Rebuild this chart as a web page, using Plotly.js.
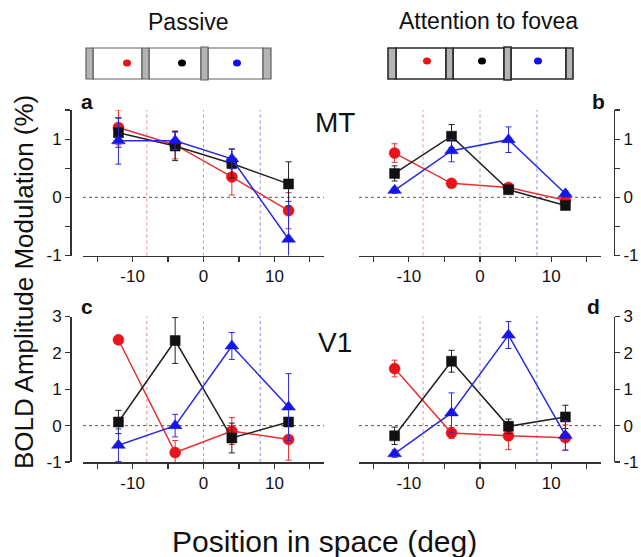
<!DOCTYPE html>
<html>
<head>
<meta charset="utf-8">
<script src="https://cdn.plot.ly/plotly-3.0.1.min.js"></script>
<style>html,body{margin:0;padding:0;background:#fff}#chart{width:641px;height:557px}</style>
</head>
<body>
<div id="chart"></div>
<script>
// ---- data ----
const positions = [-12, -4, 4, 12];

const xTickVals = [-10, 0, 10];
const xTickText = ['-10', '0', '10'];
const yTickValsMT = [-1, 0, 1];
const yTickTextMT = ['-1', '0', '1'];
const yTickValsV1 = [-1, 0, 1, 2, 3];
const yTickTextV1 = ['-1', '0', '1', '2', '3'];

const mtPassiveRed = [1.20, 0.90, 0.35, -0.23];
const mtPassiveRedErr = [0.30, 0.24, 0.31, 0.31];
const mtPassiveBlack = [1.11, 0.88, 0.58, 0.23];
const mtPassiveBlackErr = [0.25, 0.25, 0.25, 0.38];
const mtPassiveBlue = [0.97, 0.97, 0.66, -0.72];
const mtPassiveBlueErr = [0.40, 0.15, 0.17, 0.65];

const mtAttRed = [0.76, 0.24, 0.17, -0.05];
const mtAttRedErr = [0.16, 0.05, 0.05, 0.05];
const mtAttBlack = [0.41, 1.05, 0.13, -0.14];
const mtAttBlackErr = [0.13, 0.20, 0.05, 0.05];
const mtAttBlue = [0.12, 0.80, 0.99, 0.06];
const mtAttBlueErr = [0.05, 0.19, 0.22, 0.05];

const v1PassiveRed = [2.36, -0.74, -0.15, -0.38];
const v1PassiveRedErr = [0.10, 0.33, 0.37, 0.57];
const v1PassiveBlack = [0.10, 2.34, -0.34, 0.10];
const v1PassiveBlackErr = [0.32, 0.63, 0.41, 0.08];
const v1PassiveBlue = [-0.54, 0.00, 2.19, 0.51];
const v1PassiveBlueErr = [0.45, 0.31, 0.37, 0.92];

const v1AttRed = [1.57, -0.20, -0.28, -0.33];
const v1AttRedErr = [0.23, 0.15, 0.38, 0.35];
const v1AttBlack = [-0.28, 1.77, -0.02, 0.24];
const v1AttBlackErr = [0.24, 0.30, 0.20, 0.32];
const v1AttBlue = [-0.77, 0.35, 2.49, -0.27];
const v1AttBlueErr = [0.10, 0.55, 0.37, 0.40];

const guideLines = [-8, 0, 8];

// ---- helpers ----
const W = 641, H = 557;
const px = v => v / W;
const py = v => 1 - v / H;
const FONT = 'Liberation Sans, Arial, sans-serif';

const RED = '#e8141c', BLACK = '#111111', BLUE = '#1616e6';

function series(xa, ya, y, err, color, symbol, size, lineColor) {
  return {
    type: 'scatter', mode: 'lines+markers', x: positions, y: y,
    xaxis: xa, yaxis: ya, showlegend: false,
    line: {color: lineColor, width: 1.5},
    marker: {symbol: symbol, size: size, color: color, line: {color: color, width: 0.5}},
    error_y: {type: 'data', array: err, visible: true, color: lineColor, thickness: 1, width: 3}
  };
}

const traces = [];
const panels = [
  ['x', 'y', mtPassiveRed, mtPassiveRedErr, mtPassiveBlack, mtPassiveBlackErr, mtPassiveBlue, mtPassiveBlueErr],
  ['x2', 'y2', mtAttRed, mtAttRedErr, mtAttBlack, mtAttBlackErr, mtAttBlue, mtAttBlueErr],
  ['x3', 'y3', v1PassiveRed, v1PassiveRedErr, v1PassiveBlack, v1PassiveBlackErr, v1PassiveBlue, v1PassiveBlueErr],
  ['x4', 'y4', v1AttRed, v1AttRedErr, v1AttBlack, v1AttBlackErr, v1AttBlue, v1AttBlueErr]
];
panels.forEach(p => {
  traces.push(series(p[0], p[1], p[2], p[3], RED, 'circle', 11, '#e83030'));
  traces.push(series(p[0], p[1], p[4], p[5], BLACK, 'square', 10, '#222222'));
  traces.push(series(p[0], p[1], p[6], p[7], BLUE, 'triangle-up', 12, '#2a2ae0'));
});

// ---- axes ----
const AX = '#333333';
function xAxis(domain, anchor) {
  return {
    domain: domain, anchor: anchor, range: [-17, 17],
    showline: true, linecolor: AX, linewidth: 1.5,
    ticks: 'outside', ticklen: 5, tickwidth: 1.2, tickcolor: AX,
    tickmode: 'array', tickvals: xTickVals, ticktext: xTickText,
    minor: {tick0: 0, dtick: 5, ticks: 'outside', ticklen: 5, tickwidth: 1.2, tickcolor: AX},
    showgrid: false, zeroline: false,
    tickfont: {family: FONT, size: 17, color: '#111'}
  };
}
function yAxis(domain, range, pos, side, vals, text, minor) {
  const a = {
    domain: domain, anchor: 'free', position: pos, side: side, range: range,
    showline: true, linecolor: AX, linewidth: 1.5,
    ticks: 'outside', ticklen: 5, tickwidth: 1.2, tickcolor: AX,
    tickmode: 'array', tickvals: vals, ticktext: text,
    showgrid: false, zeroline: false,
    tickfont: {family: FONT, size: 17, color: '#111'}
  };
  if (minor) a.minor = {tick0: 0, dtick: 0.5, ticks: 'outside', ticklen: 5, tickwidth: 1.2, tickcolor: AX};
  return a;
}

const xLeft = [px(83), px(324)];
const xRight = [px(359), px(601)];
const yTop = [py(255.5), py(110)];
const yBot = [py(462), py(316.5)];

// ---- shapes ----
const shapes = [];
const guideColors = ['#f08a8a', '#a0a0c0', '#8a8ae8'];
[['x', 'y'], ['x2', 'y2'], ['x3', 'y3'], ['x4', 'y4']].forEach(([xa, ya]) => {
  guideLines.forEach((g, i) => {
    shapes.push({type: 'line', xref: xa, yref: ya + ' domain', x0: g, x1: g, y0: 0, y1: 1,
      line: {color: guideColors[i], width: 1, dash: 'dot'}, layer: 'below'});
  });
  shapes.push({type: 'line', xref: xa + ' domain', yref: ya, x0: 0, x1: 1, y0: 0, y1: 0,
    line: {color: '#555', width: 1, dash: 'dot'}, layer: 'below'});
});

// schematic boxes
function schematic(bars, whites, dots, top, bot, border, bw) {
  whites.forEach(w => shapes.push({type: 'rect', xref: 'paper', yref: 'paper',
    x0: px(w[0]), x1: px(w[1]), y0: py(bot), y1: py(top),
    fillcolor: '#ffffff', line: {color: border, width: bw}}));
  bars.forEach((b, i) => shapes.push({type: 'rect', xref: 'paper', yref: 'paper',
    x0: px(b[0]), x1: px(b[1]), y0: py(bot + (b[2] || 0)), y1: py(top - (b[2] || 0)),
    fillcolor: '#b4b4b4', line: {color: border, width: bw}}));
  dots.forEach(d => shapes.push({type: 'circle', xref: 'paper', yref: 'paper',
    x0: px(d[0] - 4), x1: px(d[0] + 4), y0: py(d[1] + 3.5), y1: py(d[1] - 3.5),
    fillcolor: d[2], line: {color: d[2], width: 0}}));
}
schematic([[86, 93], [142, 149], [201, 208, 1], [263, 271]],
  [[93, 142], [149, 201], [208, 263]],
  [[127, 63, '#ee1111'], [182, 63, '#000000'], [237, 63, '#1111ee']], 48, 79, '#606060', 1.2);
schematic([[388, 396], [446, 453], [504, 511, 1], [566, 573]],
  [[396, 446], [453, 504], [511, 566]],
  [[427, 61, '#ee1111'], [482, 61, '#000000'], [538, 61, '#1111ee']], 48, 79, '#2a2a2a', 1.6);

// ---- annotations ----
function txt(t, x, y, size, opts) {
  return Object.assign({text: t, xref: 'paper', yref: 'paper', x: px(x), y: py(y),
    xanchor: 'center', yanchor: 'middle', showarrow: false,
    font: {family: FONT, size: size, color: '#111'}}, opts || {});
}
const annotations = [
  txt('Passive', 188, 22, 23),
  txt('Attention to fovea', 488, 21, 23),
  txt('<b>a</b>', 87, 102, 21),
  txt('<b>b</b>', 598, 102, 21),
  txt('<b>c</b>', 87, 306, 21),
  txt('<b>d</b>', 593, 306, 21),
  txt('MT', 335, 122, 28),
  txt('V1', 335, 342, 28),
  txt('Position in space (deg)', 325, 541, 30),
  txt('BOLD Amplitude Modulation (%)', 24, 282, 26, {textangle: -90})
];

const layout = {
  width: W, height: H,
  margin: {l: 0, r: 0, t: 0, b: 0},
  paper_bgcolor: '#ffffff', plot_bgcolor: 'rgba(0,0,0,0)',
  showlegend: false,
  xaxis: xAxis(xLeft, 'y'),
  xaxis2: xAxis(xRight, 'y2'),
  xaxis3: xAxis(xLeft, 'y3'),
  xaxis4: xAxis(xRight, 'y4'),
  yaxis: yAxis(yTop, [-1, 1.5], px(70), 'left', yTickValsMT, yTickTextMT, true),
  yaxis2: yAxis(yTop, [-1, 1.5], px(613.5), 'right', yTickValsMT, yTickTextMT, true),
  yaxis3: yAxis(yBot, [-1, 3], px(70), 'left', yTickValsV1, yTickTextV1, false),
  yaxis4: yAxis(yBot, [-1, 3], px(613.5), 'right', yTickValsV1, yTickTextV1, false),
  shapes: shapes,
  annotations: annotations
};

Plotly.newPlot('chart', traces, layout, {displayModeBar: false, staticPlot: true});
</script>
</body>
</html>
